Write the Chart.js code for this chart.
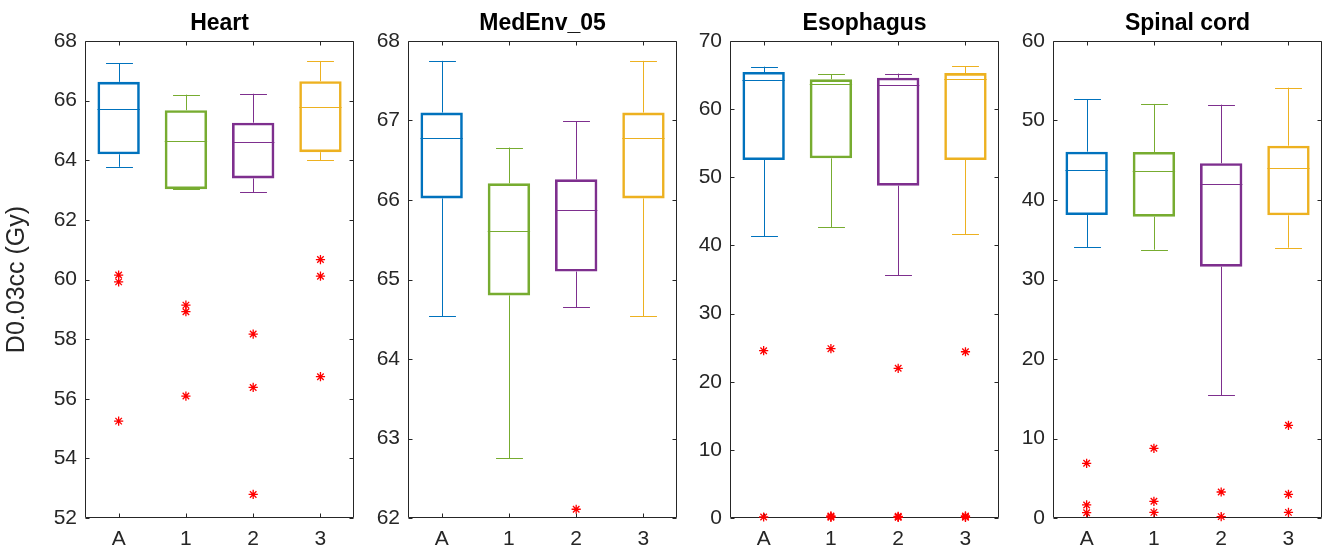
<!DOCTYPE html>
<html>
<head>
<meta charset="utf-8">
<script src="https://cdn.jsdelivr.net/npm/chart.js@4.4.1/dist/chart.umd.min.js"></script>
<style>
  body { margin: 0; background: #fff; width: 1328px; height: 550px; position: relative; overflow: hidden; }
  canvas { position: absolute; top: 0; }
</style>
</head>
<body>
<canvas id="c0"></canvas>
<canvas id="c1"></canvas>
<canvas id="c2"></canvas>
<canvas id="c3"></canvas>
<script>
// groups on the x axis
const groups = ['A', '1', '2', '3'];

// Heart
const heartLo = [63.78, 63.02, 62.93, 64.00];
const heartQ1 = [64.20, 63.03, 63.39, 64.27];
const heartMed = [65.72, 64.63, 64.60, 65.78];
const heartQ3 = [66.63, 65.68, 65.26, 66.65];
const heartHi = [67.25, 66.20, 66.23, 67.33];
const heartOut = [[60.15, 59.92, 55.25], [59.14, 58.92, 56.09], [58.17, 56.38, 52.79], [60.67, 60.11, 56.74]];
const heartTicks = [52, 68, 2];

// MedEnv_05
const medLo = [64.54, 62.75, 64.65, 64.54];
const medQ1 = [66.02, 64.80, 65.10, 66.02];
const medMed = [66.78, 65.61, 65.87, 66.78];
const medQ3 = [67.10, 66.21, 66.26, 67.10];
const medHi = [67.75, 66.66, 66.99, 67.75];
const medOut = [[], [], [62.11], []];
const medTicks = [62, 68, 1];

// Esophagus
const esoLo = [41.34, 42.65, 35.66, 41.68];
const esoQ1 = [52.54, 52.78, 48.77, 52.54];
const esoMed = [64.28, 63.74, 63.50, 64.47];
const esoQ3 = [65.45, 64.38, 64.62, 65.30];
const esoHi = [66.23, 65.11, 65.21, 66.28];
const esoOut = [[24.55, 0.15], [24.85, 0.3, 0.2, 0.1], [21.97, 0.25, 0.15, 0.1], [24.40, 0.3, 0.2, 0.1]];
const esoTicks = [0, 70, 10];

// Spinal cord
const spLo = [34.09, 33.75, 15.43, 34.00];
const spQ1 = [38.11, 37.90, 31.61, 38.07];
const spMed = [43.77, 43.69, 41.97, 44.07];
const spQ3 = [46.08, 46.04, 44.62, 46.83];
const spHi = [52.70, 52.08, 51.99, 54.13];
const spOut = [[6.88, 1.64, 0.67], [8.77, 2.10, 0.71], [3.27, 0.17], [11.66, 2.98, 0.71]];
const spTicks = [0, 60, 10];

const colors = ['#0072BD', '#77AC30', '#7E2F8E', '#EDB120'];
const axisColor = '#262626';

Chart.defaults.font.family = '"Liberation Sans", Arial, Helvetica, sans-serif';
Chart.defaults.color = axisColor;

const panels = [
    { title: 'Heart', lo: heartLo, q1: heartQ1, med: heartMed, q3: heartQ3, hi: heartHi, out: heartOut, ticks: heartTicks, left: 85, axisW: 85, ylabel: 'D0.03cc (Gy)' },
    { title: 'MedEnv_05', lo: medLo, q1: medQ1, med: medMed, q3: medQ3, hi: medHi, out: medOut, ticks: medTicks, left: 408, axisW: 50 },
    { title: 'Esophagus', lo: esoLo, q1: esoQ1, med: esoMed, q3: esoQ3, hi: esoHi, out: esoOut, ticks: esoTicks, left: 730, axisW: 50 },
    { title: 'Spinal cord', lo: spLo, q1: spQ1, med: spMed, q3: spQ3, hi: spHi, out: spOut, ticks: spTicks, left: 1053, axisW: 50 }
];

const plotW = 272;
const rightPad = 3;

// whiskers, caps and medians, drawn from the data through the scales
const boxExtras = {
    id: 'boxExtras',
    beforeDatasetsDraw(chart) {
        const p = chart.options.plugins.boxExtras.panel;
        const xs = chart.scales.x, ys = chart.scales.y;
        const step = xs.getPixelForValue(1) - xs.getPixelForValue(0);
        const ctx = chart.ctx;
        ctx.save();
        ctx.lineWidth = 1;
        groups.forEach((g, i) => {
            const x = Math.round(xs.getPixelForValue(i)) + 0.5;
            const cap = step * 0.2;
            ctx.strokeStyle = colors[i];
            ctx.beginPath();
            ctx.moveTo(x, ys.getPixelForValue(p.lo[i]));
            ctx.lineTo(x, ys.getPixelForValue(p.q1[i]));
            ctx.moveTo(x, ys.getPixelForValue(p.q3[i]));
            ctx.lineTo(x, ys.getPixelForValue(p.hi[i]));
            const yl = Math.round(ys.getPixelForValue(p.lo[i])) + 0.5;
            const yh = Math.round(ys.getPixelForValue(p.hi[i])) + 0.5;
            ctx.moveTo(x - cap, yl);
            ctx.lineTo(x + cap, yl);
            ctx.moveTo(x - cap, yh);
            ctx.lineTo(x + cap, yh);
            ctx.stroke();
        });
        ctx.restore();
    },
    afterDatasetsDraw(chart) {
        const p = chart.options.plugins.boxExtras.panel;
        const xs = chart.scales.x, ys = chart.scales.y;
        const step = xs.getPixelForValue(1) - xs.getPixelForValue(0);
        const ctx = chart.ctx;
        ctx.save();
        ctx.lineWidth = 1;
        groups.forEach((g, i) => {
            const x = xs.getPixelForValue(i);
            const half = step * 0.315;
            const y = Math.round(ys.getPixelForValue(p.med[i])) + 0.5;
            ctx.strokeStyle = colors[i];
            ctx.beginPath();
            ctx.moveTo(x - half, y);
            ctx.lineTo(x + half, y);
            ctx.stroke();
        });
        ctx.restore();
    }
};

// matlab style frame with inward ticks
const frame = {
    id: 'frame',
    beforeDatasetsDraw(chart) {
        const a = chart.chartArea;
        const xs = chart.scales.x, ys = chart.scales.y;
        const ctx = chart.ctx;
        const L = Math.round(a.left) + 0.5, R = Math.round(a.right) - 0.5;
        const T = Math.round(a.top) + 0.5, B = Math.round(a.bottom) - 0.5;
        const len = 4;
        ctx.save();
        ctx.strokeStyle = axisColor;
        ctx.lineWidth = 1;
        ctx.beginPath();
        ctx.rect(L, T, R - L, B - T);
        ys.ticks.forEach(t => {
            const y = Math.round(ys.getPixelForValue(t.value)) + 0.5;
            ctx.moveTo(L, y); ctx.lineTo(L + len, y);
            ctx.moveTo(R, y); ctx.lineTo(R - len, y);
        });
        xs.ticks.forEach((t, i) => {
            const x = Math.round(xs.getPixelForValue(i)) + 0.5;
            ctx.moveTo(x, B); ctx.lineTo(x, B - len);
            ctx.moveTo(x, T); ctx.lineTo(x, T + len);
        });
        ctx.stroke();
        ctx.restore();
    }
};

panels.forEach((p, k) => {
    const canvas = document.getElementById('c' + k);
    const w = p.axisW + plotW + rightPad;
    canvas.width = w;
    canvas.height = 550;
    canvas.style.left = (p.left - p.axisW) + 'px';

    const outPoints = [];
    p.out.forEach((vals, i) => vals.forEach(v => outPoints.push({ x: groups[i], y: v })));

    new Chart(canvas.getContext('2d'), {
        type: 'bar',
        data: {
            labels: groups,
            datasets: [
                {
                    type: 'bar',
                    data: groups.map((g, i) => [p.q1[i], p.q3[i]]),
                    backgroundColor: 'rgba(0,0,0,0)',
                    borderColor: colors,
                    borderWidth: 2.6,
                    borderSkipped: false,
                    barPercentage: 0.63,
                    categoryPercentage: 1
                },
                {
                    type: 'line',
                    data: outPoints,
                    showLine: false,
                    clip: false,
                    pointStyle: 'star',
                    pointRadius: 4.6,
                    pointBorderWidth: 1.3,
                    pointBorderColor: '#FF0000',
                    pointBackgroundColor: '#FF0000'
                }
            ]
        },
        options: {
            responsive: false,
            animation: false,
            layout: { padding: { left: 0, right: rightPad, top: 0, bottom: 0 } },
            plugins: {
                legend: { display: false },
                tooltip: { enabled: false },
                title: {
                    display: true,
                    text: p.title,
                    fullSize: false,
                    color: '#000',
                    font: { size: 23, weight: 'bold' },
                    padding: { top: 9.5, bottom: 3.9 }
                },
                boxExtras: { panel: p }
            },
            scales: {
                x: {
                    offset: true,
                    grid: { display: false, drawTicks: false },
                    border: { display: false },
                    ticks: { font: { size: 21 }, color: axisColor, padding: 9 },
                    afterFit: s => { s.height = 32; }
                },
                y: {
                    min: p.ticks[0],
                    max: p.ticks[1],
                    grid: { display: false, drawTicks: false },
                    border: { display: false },
                    ticks: { stepSize: p.ticks[2], font: { size: 21 }, color: axisColor, padding: 8, autoSkip: false },
                    title: {
                        display: !!p.ylabel,
                        text: p.ylabel || '',
                        font: { size: 25 },
                        color: axisColor,
                        padding: { top: 2.5, bottom: 0 }
                    },
                    afterFit: s => { s.width = p.axisW; }
                }
            }
        },
        plugins: [frame, boxExtras]
    });
});
</script>
</body>
</html>
